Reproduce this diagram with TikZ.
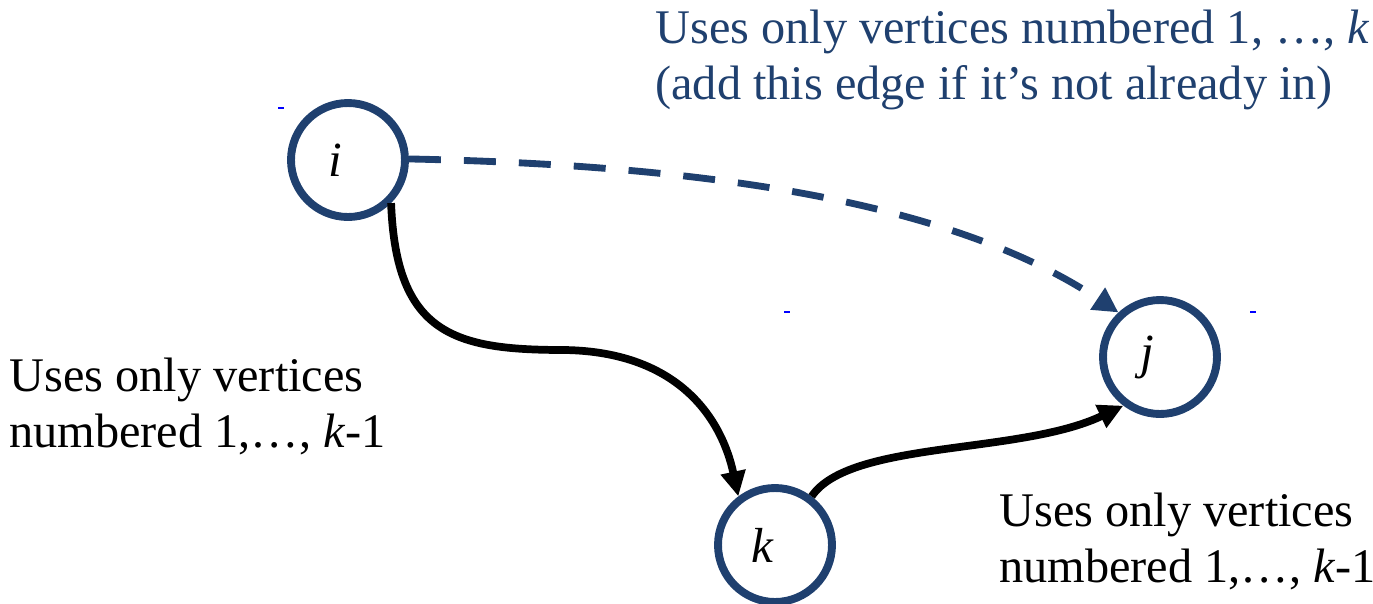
\documentclass[tikz,border=0pt]{standalone}
\usepackage{fontspec}
\setmainfont{Liberation Serif}
\usetikzlibrary{arrows.meta,positioning}
\definecolor{pathblue}{RGB}{31,64,111}
\begin{document}
\begin{tikzpicture}[x=0.02cm,y=-0.02cm]
  \tikzstyle{vert}=[circle,draw=pathblue,line width=4.5pt,minimum size=2.28cm,inner sep=0pt,
    font=\fontsize{28}{30}\selectfont\itshape,
    execute at begin node={\kern-0.26cm},execute at end node={\kern0.26cm}]
  \tikzstyle{note}=[anchor=north west,inner sep=0pt,align=left,font=\fontsize{27.5}{31.5}\selectfont]
  \tikzstyle{path}=[-{Triangle[length=0.5cm,width=0.48cm]},line width=4.4pt]
  \tikzstyle{newedge}=[-{Triangle[length=0.5cm,width=0.5cm]},line width=3.9pt,pathblue,
    dash pattern=on 0.64cm off 0.46cm]
  \useasboundingbox (0,0) rectangle (1373,603);

  % -- Vertices --
  \node[vert] (i) at (348,160) {i};
  \node[vert] (j) at (1160,357) {j};
  \node[vert] (k) at (775,545) {k};

  % -- Labels --
  \node[note,text=pathblue] (top) at (655,10)
    {Uses only vertices numbered 1, …, \textit{k}\\(add this edge if it’s not already in)};
  \node[note] (left) at (9,358) {Uses only vertices\\numbered 1,…, \textit{k}-1};
  \node[note] (right) at (999,493) {Uses only vertices\\numbered 1,…, \textit{k}-1};

  % -- Edges --
  \coordinate (mid) at (565,350);
  \draw[newedge] (i.1) .. controls (700,165) and (950,200) .. (j.133);
  \draw[path] (i.-45) .. controls (396,335) and (455,350) .. (mid)
    .. controls (680,352) and (722,420) .. (k.127);
  \draw[path] (k.53) .. controls (850,440) and (1020,455) .. (j.233);

  % -- stray marks --
  \fill[blue] (278,107) rectangle (284,109);
  \fill[blue] (784,311) rectangle (790,313);
  \fill[blue] (1250,311) rectangle (1256,313);
\end{tikzpicture}
\end{document}
